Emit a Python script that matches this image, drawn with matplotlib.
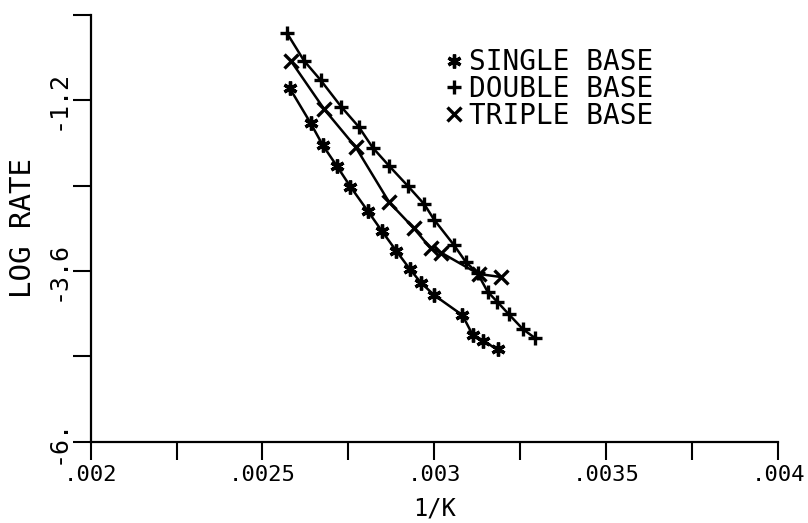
import matplotlib
matplotlib.use("Agg")
import matplotlib.pyplot as plt

# 1/K against log rate
single_x = [0.002579, 0.002640, 0.002676, 0.002717, 0.002756, 0.002807, 0.002848, 0.002889,
            0.002929, 0.002961, 0.003000, 0.003082, 0.003112, 0.003141, 0.003184]
single_y = [-1.026, -1.519, -1.835, -2.127, -2.414, -2.760, -3.041, -3.315,
            -3.574, -3.764, -3.941, -4.222, -4.503, -4.584, -4.700]

double_x = [0.002572, 0.002621, 0.002669, 0.002729, 0.002780, 0.002821, 0.002868, 0.002923, 0.002971,
            0.003000, 0.003057, 0.003091, 0.003126, 0.003155, 0.003183, 0.003216, 0.003258, 0.003294]
double_y = [-0.260, -0.643, -0.914, -1.289, -1.571, -1.866, -2.119, -2.404, -2.662,
            -2.882, -3.234, -3.469, -3.632, -3.891, -4.032, -4.204, -4.419, -4.546]

triple_x = [0.002583, 0.002680, 0.002771, 0.002869, 0.002941, 0.002989, 0.003020, 0.003129, 0.003195]
triple_y = [-0.647, -1.327, -1.856, -2.635, -3.001, -3.279, -3.342, -3.642, -3.685]

x_ticks = [0.002, 0.00225, 0.0025, 0.00275, 0.003, 0.00325, 0.0035, 0.00375, 0.004]
x_labels = ['.002', '', '.0025', '', '.003', '', '.0035', '', '.004']
y_ticks = [-6.0, -4.8, -3.6, -2.4, -1.2, 0.0]
y_labels = ['-6.', '', '-3.6', '', '-1.2', '']

plt.rcParams['font.family'] = ['DejaVu Sans Mono', 'DejaVu Sans']

fig = plt.figure(figsize=(8.08, 5.23), dpi=100)
ax = fig.add_axes([0.1121, 0.1555, 0.8508, 0.8158])

style = dict(color='black', linewidth=1.8, markersize=10, markeredgewidth=2.4)
ax.plot(single_x, single_y, marker=(6, 2, 0), label='SINGLE BASE', **style)
ax.plot(double_x, double_y, marker='+', label='DOUBLE BASE', **style)
ax.plot(triple_x, triple_y, marker='x', label='TRIPLE BASE', **style)

ax.set_xlim(0.002, 0.004)
ax.set_ylim(-6, 0)
ax.set_xticks(x_ticks)
ax.set_xticklabels(x_labels, fontsize=16)
ax.set_yticks(y_ticks)
ax.set_yticklabels(y_labels, fontsize=18, rotation=90, va='center')

ax.spines['top'].set_visible(False)
ax.spines['right'].set_visible(False)
ax.spines['left'].set_linewidth(1.6)
ax.spines['bottom'].set_linewidth(1.6)
ax.tick_params(direction='out', length=13, width=1.5, pad=4)
ax.tick_params(axis='y', pad=2)

ax.set_xlabel('1/K', fontsize=17, labelpad=8)
ax.set_ylabel('LOG RATE', fontsize=21, labelpad=6)

leg = ax.legend(loc='upper left', bbox_to_anchor=(0.50, 0.948), frameon=False,
                handlelength=0.6, handletextpad=0.25, labelspacing=-0.05,
                prop={'size': 20}, borderaxespad=0)
for h in leg.legend_handles:
    h.set_linestyle('none')

fig.savefig('out.png', dpi=100)
